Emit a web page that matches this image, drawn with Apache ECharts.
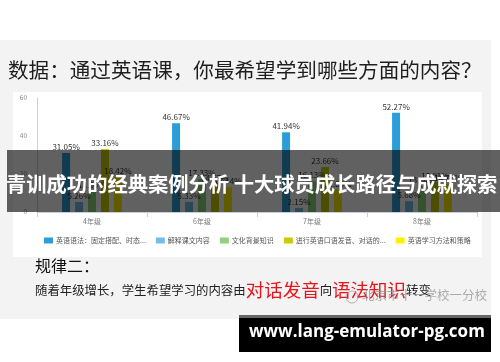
<!DOCTYPE html>
<html>
<head>
<meta charset="utf-8">
<script src="https://cdn.jsdelivr.net/npm/echarts@6/dist/echarts.min.js"></script>
<style>html,body{margin:0;padding:0;background:#fff}#c{width:500px;height:362px}</style>
</head>
<body>
<div id="c"></div>
<script>
const categories = ['4年级', '6年级', '7年级', '8年级'];
const seriesNames = ['英语语法：固定搭配、时态...', '解释课文内容', '文化背景知识', '进行英语口语发音、对话的...', '英语学习方法和策略'];
const grammar = [31.05, 46.67, 41.94, 52.27];
const textExplain = [5.26, 5.33, 2.15, 5.68];
const culture = [11.05, 17.33, 16.13, 13.64];
const speaking = [33.16, 14.67, 23.66, 15.91];
const strategy = [18.42, 13.14, 11.83, 14.77];
const yTicks = [0, 20, 40, 60];
const colors = ['#2b9ed8', '#72bdea', '#8fd47a', '#c9cc00', '#fff000'];

const FONT = '"Noto Sans CJK SC", "Noto Sans", sans-serif';
const seriesData = [grammar, textExplain, culture, speaking, strategy];

const chart = echarts.init(document.getElementById('c'), null, {renderer: 'canvas'});
chart.setOption({
  animation: false,
  textStyle: {fontFamily: FONT},
  color: colors,
  graphic: [
    {type: 'rect', z: -10, shape: {x: 0, y: 40, width: 491, height: 279}, style: {fill: '#f3f3f3'}},
    {type: 'rect', z: -9, shape: {x: 13, y: 92, width: 469, height: 165}, style: {fill: '#ffffff'}},
    {type: 'text', z: 5, left: 8, top: 60, style: {text: '数据：通过英语课，你最希望学到哪些方面的内容？', font: '20.6px ' + FONT, fill: '#1e1e1e'}},
    {type: 'text', z: 5, left: 35, top: 258, style: {text: '规律二：', font: '16px ' + FONT, fill: '#111'}},
    {type: 'text', z: 5, left: 35, top: 281, style: {
      rich: {
        n: {fontSize: 12.4, fontFamily: FONT, fill: '#222'},
        r: {fontSize: 18.5, fontFamily: FONT, fill: '#e8141c'}
      },
      text: '{n|随着年级增长，学生希望学习的内容由}{r|对话发音}{n|向}{r|语法知识}{n|转变}'
    }},
    {type: 'circle', z: 6, shape: {cx: 352, cy: 297, r: 6}, style: {fill: 'none', stroke: 'rgba(150,150,150,0.7)', lineWidth: 1}},
    {type: 'text', z: 6, left: 362, top: 289, style: {text: '北京市十一学校一分校', font: '12.5px ' + FONT, fill: 'rgba(140,140,140,0.7)'}},
    {type: 'rect', z: 50, shape: {x: 7, y: 150, width: 493, height: 62}, style: {fill: 'rgba(0,0,0,0.62)'}},
    {type: 'text', z: 51, left: 6, top: 174, style: {text: '青训成功的经典案例分析 十大球员成长路径与成就探索', font: 'bold 20.3px ' + FONT, fill: '#ffffff'}},
    {type: 'rect', z: 50, shape: {x: 239, y: 315, width: 252, height: 37}, style: {fill: '#000'}},
    {type: 'rect', z: 51, shape: {x: 239, y: 315, width: 252, height: 3}, style: {fill: '#666'}},
    {type: 'text', z: 52, left: 249, top: 324, style: {text: 'www.lang-emulator-pg.com', font: 'bold 17px "Open Sans", "DejaVu Sans", sans-serif', fill: '#ffffff'}}
  ],
  grid: {left: 37, right: 23, top: 98, bottom: 150, containLabel: false},
  legend: {
    left: 44, top: 237, padding: 0, itemWidth: 9, itemHeight: 6, itemGap: 10,
    icon: 'rect',
    textStyle: {fontSize: 7, color: '#555', fontFamily: FONT, padding: [0, 0, 0, -2]},
    data: seriesNames
  },
  xAxis: {
    type: 'category', data: categories,
    axisLine: {lineStyle: {color: '#c8ced6'}},
    axisTick: {show: true, length: 5, lineStyle: {color: '#c8ced6'}},
    axisLabel: {fontSize: 7, color: '#777', margin: 6}
  },
  yAxis: {
    type: 'value', min: 0, max: 60, interval: 20,
    axisLine: {show: true, lineStyle: {color: '#c8d4e0'}},
    axisTick: {show: false},
    splitLine: {show: false},
    axisLabel: {fontSize: 6.5, color: '#888', margin: 10,
      formatter: v => yTicks.includes(v) ? String(v) : ''}
  },
  series: seriesNames.map((name, i) => ({
    name, type: 'bar', data: seriesData[i],
    barWidth: 8, barGap: '62%',
    itemStyle: {color: colors[i]},
    label: {show: true, position: 'top', distance: 2, fontSize: 8, color: '#333',
      formatter: p => p.value.toFixed(2) + '%'}
  }))
});
</script>
</body>
</html>
